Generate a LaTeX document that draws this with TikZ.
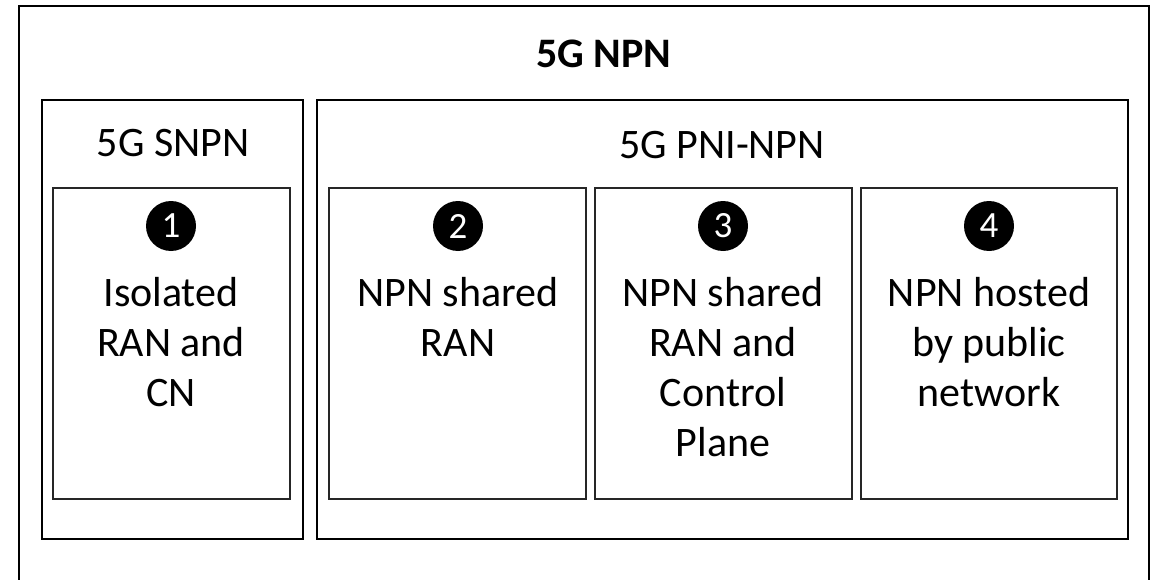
\documentclass[tikz,border=0pt]{standalone}
\usepackage{fontspec}
\setmainfont{Carlito}
\begin{document}
\begin{tikzpicture}[x=1pt,y=-1pt,
  outerbox/.style={draw=black,line width=2pt},
  groupbox/.style={draw=black,line width=2.4pt},
  casebox/.style={draw=black!85,line width=1.4pt},
  heading/.style={anchor=base,inner sep=0pt,font=\fontsize{42}{50}\selectfont},
  casetext/.style={anchor=north,inner sep=0pt,align=center,font=\fontsize{42}{50}\selectfont},
  badge/.style={circle,fill=black,inner sep=0pt,minimum size=50pt,text=white,font=\fontsize{37}{40}\selectfont}]
  \useasboundingbox (0,0) rectangle (1158,580);
  \clip (0,0) rectangle (1158,580);
  \fill[white] (0,0) rectangle (1158,580);

  % outer frame and the two network groups
  \draw[outerbox] (19,6) rectangle (1149,620);
  \draw[groupbox] (42,100) rectangle (303,539);
  \draw[groupbox] (317,100) rectangle (1128,539);

  % deployment cases
  \draw[casebox] (53,188) rectangle (290,499);
  \draw[casebox] (329,188) rectangle (586,499);
  \draw[casebox] (595,188) rectangle (852,499);
  \draw[casebox] (861,188) rectangle (1117,499);

  % headings
  \node[heading,font=\fontsize{42}{50}\selectfont\bfseries] (npn) at (604,68) {5G NPN};
  \node[heading] (snpn) at (173,157) {5G SNPN};
  \node[heading] (pni) at (722,159) {5G PNI-NPN};

  % numbered badges
  \node[badge] (b1) at (171,226) {1};
  \node[badge] (b2) at (458,226) {2};
  \node[badge] (b3) at (723,226) {3};
  \node[badge] (b4) at (989,226) {4};

  % case descriptions
  \node[casetext] (t1) at (171,270.7) {\rule{0pt}{36pt}Isolated\\RAN and\\CN};
  \node[casetext] (t2) at (458,270.7) {\rule{0pt}{36pt}NPN shared\\RAN};
  \node[casetext] (t3) at (723,270.7) {\rule{0pt}{36pt}NPN shared\\RAN and\\Control\\Plane};
  \node[casetext] (t4) at (989,270.7) {\rule{0pt}{36pt}NPN hosted\\by public\\network};
\end{tikzpicture}
\end{document}
